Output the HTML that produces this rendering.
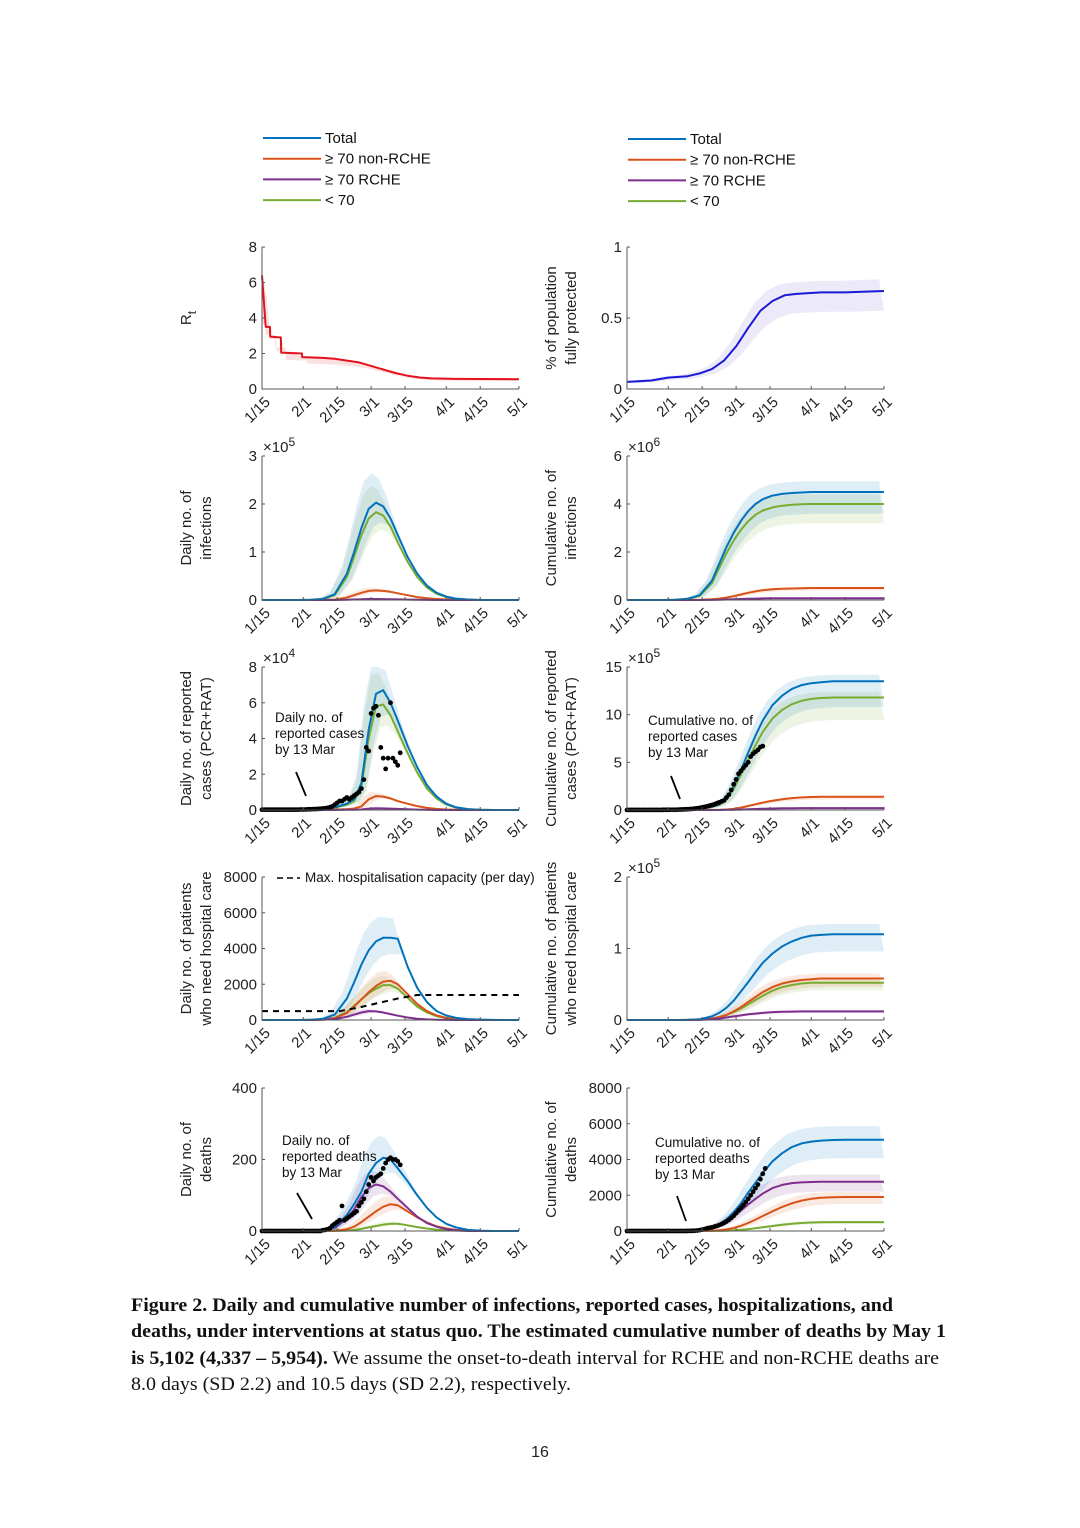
<!DOCTYPE html>
<html><head><meta charset="utf-8">
<style>
body{margin:0;background:#fff;}
svg{display:block;font-family:"Liberation Sans",sans-serif;}
.cap{font-family:"Liberation Serif",serif;font-size:19px;fill:#111;}
</style></head>
<body>
<svg id="fig" width="1080" height="1528" viewBox="0 0 1080 1528" xmlns="http://www.w3.org/2000/svg">
<g id="legend-left"></g>
<g id="legend-right"></g>
<g id="panels"></g>
<g>
<text class="cap" x="131" y="1311" font-weight="bold" textLength="762" lengthAdjust="spacingAndGlyphs">Figure 2. Daily and cumulative number of infections, reported cases, hospitalizations, and</text>
<text class="cap" x="131" y="1337" font-weight="bold" textLength="815" lengthAdjust="spacingAndGlyphs">deaths, under interventions at status quo. The estimated cumulative number of deaths by May 1</text>
<text class="cap" x="131" y="1364" textLength="808" lengthAdjust="spacingAndGlyphs"><tspan font-weight="bold">is 5,102 (4,337 – 5,954).</tspan> We assume the onset-to-death interval for RCHE and non-RCHE deaths are</text>
<text class="cap" x="131" y="1390" textLength="440" lengthAdjust="spacingAndGlyphs">8.0 days (SD 2.2) and 10.5 days (SD 2.2), respectively.</text>
</g>
<text x="540" y="1457" text-anchor="middle" font-size="16" fill="#222">16</text>
</svg>
<script>
// ---- data ----
const xTickLabels = ["1/15","2/1","2/15","3/1","3/15","4/1","4/15","5/1"];
const xTickDays = [0,17,31,45,59,76,90,106];
const gridDays = [0,5,10,15,20,25,30,35,38,41,44,47,50,53,56,60,64,68,72,76,80,85,90,95,100,106];
const seriesNames = ["Total","\u2265 70 non-RCHE","\u2265 70 RCHE","< 70"];

const rtDays = [0,1.5,1.6,3.3,3.4,7.8,7.9,16.5,16.6,25,30,35,40,45,50,55,60,65,70,80,106];
const rtVals = [6.4,3.6,3.5,3.5,2.95,2.9,2.05,2.0,1.8,1.75,1.7,1.6,1.5,1.3,1.1,0.9,0.75,0.65,0.6,0.57,0.55];
const protDays = [0,10,17,25,30,35,40,45,50,55,60,65,70,80,90,106];
const protVals = [0.05,0.06,0.08,0.09,0.11,0.14,0.2,0.3,0.43,0.55,0.62,0.66,0.67,0.68,0.68,0.69];

const infTotal = [0,0,0,0,0.005,0.02,0.12,0.55,1.0,1.5,1.9,2.03,1.95,1.7,1.35,0.9,0.55,0.3,0.15,0.07,0.03,0.01,0,0,0,0];
const infU70 = [0,0,0,0,0.004,0.018,0.1,0.48,0.9,1.35,1.7,1.83,1.76,1.53,1.2,0.8,0.48,0.26,0.13,0.06,0.025,0.008,0,0,0,0];
const infNon = [0,0,0,0,0.001,0.002,0.01,0.05,0.1,0.15,0.19,0.2,0.19,0.17,0.14,0.1,0.06,0.035,0.02,0.01,0.005,0.002,0,0,0,0];
const infRche = [0,0,0,0,0,0,0.001,0.005,0.01,0.015,0.02,0.02,0.018,0.015,0.012,0.008,0.005,0.003,0.001,0,0,0,0,0,0,0];

const cinfTotal = [0,0,0,0,0.01,0.05,0.2,0.8,1.5,2.2,2.8,3.3,3.7,4.0,4.2,4.35,4.42,4.46,4.48,4.5,4.5,4.5,4.5,4.5,4.5,4.5];
const cinfU70 = [0,0,0,0,0.01,0.04,0.17,0.7,1.32,1.95,2.48,2.93,3.28,3.55,3.73,3.86,3.93,3.97,3.99,4.0,4.0,4.0,4.0,4.0,4.0,4.0];
const cinfNon = [0,0,0,0,0,0,0.01,0.03,0.06,0.1,0.16,0.23,0.3,0.36,0.41,0.45,0.47,0.48,0.49,0.5,0.5,0.5,0.5,0.5,0.5,0.5];
const cinfRche = [0,0,0,0,0,0,0,0.005,0.01,0.02,0.03,0.04,0.05,0.06,0.065,0.07,0.07,0.07,0.07,0.07,0.07,0.07,0.07,0.07,0.07,0.07];

const repTotal = [0,0,0,0,0.02,0.05,0.15,0.35,0.6,1.5,4.5,6.5,6.7,6.0,5.0,3.6,2.4,1.4,0.75,0.35,0.15,0.05,0.01,0,0,0];
const repU70 = [0,0,0,0,0.02,0.05,0.13,0.3,0.5,1.3,4.0,5.8,5.9,5.3,4.4,3.2,2.1,1.2,0.65,0.3,0.13,0.04,0.01,0,0,0];
const repNon = [0,0,0,0,0,0,0.02,0.05,0.08,0.2,0.6,0.78,0.75,0.65,0.5,0.35,0.22,0.12,0.06,0.03,0.01,0,0,0,0,0];
const repRche = [0,0,0,0,0,0,0,0.01,0.01,0.03,0.08,0.1,0.09,0.08,0.06,0.04,0.02,0.01,0,0,0,0,0,0,0,0];
const repDotVals = [0.02,0.02,0.02,0.02,0.02,0.02,0.02,0.02,0.02,0.02,0.02,0.02,0.02,0.02,0.02,0.02,0.03,0.03,0.03,0.04,0.04,0.05,0.05,0.06,0.07,0.08,0.1,0.12,0.15,0.2,0.3,0.4,0.5,0.5,0.6,0.7,0.6,0.7,0.8,0.9,1.0,1.2,1.7,3.5,3.3,5.4,5.7,5.8,5.3,3.5,2.9,2.3,2.9,6.0,2.9,2.7,2.5,3.2];

const crepTotal = [0,0,0,0,0.03,0.08,0.15,0.35,0.6,1.2,2.5,4.2,6.0,7.8,9.4,11.0,12.0,12.7,13.1,13.3,13.4,13.5,13.5,13.5,13.5,13.5];
const crepU70 = [0,0,0,0,0.03,0.07,0.13,0.3,0.52,1.05,2.2,3.7,5.25,6.8,8.2,9.6,10.5,11.1,11.45,11.65,11.75,11.8,11.8,11.8,11.8,11.8];
const crepNon = [0,0,0,0,0,0,0,0.01,0.02,0.05,0.12,0.25,0.42,0.6,0.78,0.98,1.13,1.25,1.32,1.36,1.38,1.4,1.4,1.4,1.4,1.4];
const crepRche = [0,0,0,0,0,0,0,0,0,0.01,0.02,0.04,0.07,0.1,0.13,0.16,0.18,0.19,0.2,0.2,0.2,0.2,0.2,0.2,0.2,0.2];
const crepDotVals = [0.01,0.01,0.01,0.01,0.01,0.01,0.01,0.01,0.01,0.01,0.01,0.01,0.01,0.01,0.01,0.02,0.02,0.02,0.03,0.03,0.03,0.04,0.05,0.06,0.07,0.08,0.1,0.12,0.15,0.18,0.22,0.27,0.33,0.38,0.45,0.52,0.6,0.7,0.8,0.9,1.0,1.3,1.6,2.1,2.7,3.2,3.8,4.1,4.4,4.7,5.0,5.6,5.9,6.1,6.3,6.6,6.7];

const hosTotal = [0,0,0,0,10,60,300,1200,2100,3100,3900,4400,4600,4600,4550,3000,1800,1000,500,250,120,50,20,5,0,0];
const hosNon = [0,0,0,0,5,20,100,400,750,1150,1550,1900,2150,2200,2000,1450,900,500,260,120,55,20,8,2,0,0];
const hosU70 = [0,0,0,0,5,25,120,450,800,1150,1500,1750,1950,1950,1750,1250,750,420,210,100,45,15,5,1,0,0];
const hosRche = [0,0,0,0,2,10,50,180,300,420,500,480,420,330,240,140,75,35,15,6,2,0,0,0,0,0];
const capDays = [0,32,40,48,56,64,106];
const capVals = [500,500,700,950,1200,1400,1400];

const chosTotal = [0,0,0,0,0,0.002,0.01,0.05,0.1,0.17,0.27,0.4,0.53,0.67,0.8,0.93,1.03,1.1,1.15,1.18,1.19,1.2,1.2,1.2,1.2,1.2];
const chosNon = [0,0,0,0,0,0.001,0.005,0.02,0.04,0.07,0.12,0.18,0.25,0.32,0.39,0.46,0.51,0.54,0.56,0.57,0.58,0.58,0.58,0.58,0.58,0.58];
const chosU70 = [0,0,0,0,0,0.001,0.005,0.02,0.04,0.07,0.11,0.16,0.22,0.28,0.34,0.41,0.46,0.49,0.51,0.52,0.52,0.52,0.52,0.52,0.52,0.52];
const chosRche = [0,0,0,0,0,0,0.002,0.01,0.02,0.035,0.05,0.065,0.08,0.09,0.1,0.11,0.115,0.118,0.12,0.12,0.12,0.12,0.12,0.12,0.12,0.12];

const dthTotal = [0,0,0,0,0,1,10,45,75,110,160,190,205,200,175,140,100,65,38,20,10,3,1,0,0,0];
const dthRche = [0,0,0,0,0,1,8,35,60,95,120,130,125,110,90,65,40,22,12,5,2,0,0,0,0,0];
const dthNon = [0,0,0,0,0,0,1,5,12,25,40,55,68,75,72,55,38,24,13,7,3,1,0,0,0,0];
const dthU70 = [0,0,0,0,0,0,0,1,3,6,10,14,18,20,20,16,11,7,4,2,1,0,0,0,0,0];
const dthDotVals = [0,0,0,0,0,0,0,0,0,0,0,0,0,0,0,0,0,0,0,0,0,0,0,0,0,2,3,5,8,15,20,25,30,70,30,35,40,45,50,55,70,80,90,110,130,150,140,150,155,160,175,190,200,205,200,200,195,185];

const cdthTotal = [0,0,0,0,0,5,40,200,380,650,1050,1550,2150,2700,3250,3900,4350,4700,4900,5000,5060,5090,5100,5100,5100,5100];
const cdthRche = [0,0,0,0,0,4,35,170,320,530,820,1150,1480,1800,2100,2400,2580,2680,2720,2740,2750,2750,2750,2750,2750,2750];
const cdthNon = [0,0,0,0,0,0,3,15,40,90,170,290,450,640,840,1100,1350,1550,1700,1800,1860,1890,1900,1900,1900,1900];
const cdthU70 = [0,0,0,0,0,0,0,3,8,18,35,65,105,155,210,280,350,410,450,475,490,497,500,500,500,500];
const cdthDotVals = [0,0,0,0,0,0,0,0,0,0,0,0,0,0,0,0,0,0,0,0,0,0,0,0,0,3,6,10,15,30,50,75,105,150,180,200,240,280,330,385,450,530,620,730,850,1000,1150,1300,1450,1620,1800,2000,2200,2400,2600,2900,3200,3500];

// ---- drawing ----
const NS="http://www.w3.org/2000/svg";
const C={blue:"#0072BD",orange:"#D95319",purple:"#7E2F8E",green:"#77AC30"};
function el(tag,attrs,parent){const e=document.createElementNS(NS,tag);for(const k in attrs)e.setAttribute(k,attrs[k]);if(parent)parent.appendChild(e);return e;}
const panelsG=document.getElementById('panels');

function legend(gid,x0,y0){
  const g=document.getElementById(gid);
  const cols=[C.blue,C.orange,C.purple,C.green];
  seriesNames.forEach((n,i)=>{
    const y=y0+i*20.7;
    const ln=el('line',{x1:x0,x2:x0+58,y1:y,y2:y,stroke:cols[i],'stroke-width':2},g);
    
    
    const t=el('text',{x:x0+62,y:y+5,'font-size':15,fill:'#111'},g);
    t.textContent=n;
    
    
  });
}
legend('legend-left',263,138);
legend('legend-right',628,139);

function makePanel(p){
  const g=el('g',{},panelsG);
  
  
  const x0=p.x, x1=p.x+257, yT=p.top, yB=p.bot;
  const sx=d=>x0+(d/106)*(x1-x0);
  const sy=v=>yB-(v/p.ymax)*(yB-yT);
  (p.series||[]).forEach(s=>{
    if(s.dash) return;
    const days=s.days||gridDays;
    let up=days.map((d,i)=>sx(Math.max(0,d-2))+','+sy(Math.min(p.ymax,s.vals[i]*(p.band||1.25))));
    let lo=days.map((d,i)=>sx(Math.min(106,d+2))+','+sy(s.vals[i]*0.8)).reverse();
    const b=el('polygon',{points:up.concat(lo).join(' '),fill:s.bandColor||s.color,opacity:0.13},g);
    
    
  });
  (p.series||[]).forEach(s=>{
    const days=s.days||gridDays;
    const pts=days.map((d,i)=>sx(d).toFixed(1)+','+sy(s.vals[i]).toFixed(1)).join(' ');
    const l=el('polyline',{points:pts,fill:'none',stroke:s.color,'stroke-width':2,'stroke-linejoin':'round','stroke-dasharray':s.dash||'none'},g);
    
    
  });
  if(p.dots){
    const dd=p.dots.days||p.dots.vals.map((v,i)=>i);
    p.dots.vals.forEach((v,i)=>{
      const c=el('circle',{cx:sx(dd[i]),cy:sy(v),r:2.4,fill:'#000'},g);
      
      
    });
  }
  const ax=el('path',{d:`M${x0},${yT} L${x0},${yB} L${x1},${yB}`,fill:'none',stroke:'#555','stroke-width':1},g);
  
  
  p.yticks.forEach((v,i)=>{
    const y=sy(v);
    el('line',{x1:x0,x2:x0+3,y1:y,y2:y,stroke:'#555'},g);
    const t=el('text',{x:x0-5,y:y+5,'text-anchor':'end','font-size':15,fill:'#222'},g);
    t.textContent=String(v);
    
    
  });
  xTickDays.forEach((d,i)=>{
    const x=sx(d);
    el('line',{x1:x,x2:x,y1:yB,y2:yB-3,stroke:'#555'},g);
    const t=el('text',{x:x+9,y:yB+14,'text-anchor':'end','font-size':15,fill:'#222',transform:`rotate(-45 ${x+9} ${yB+14})`},g);
    t.textContent=xTickLabels[i];
    
    
  });
  if(p.exp){
    const t=el('text',{x:x0+1,y:yT-4,'font-size':15,fill:'#222'},g);
    t.innerHTML='\u00d710<tspan dy="-6" font-size="12">'+p.exp+'</tspan>';
    
    
  }
  const cy=(yT+yB)/2;
  const lx=p.x-71;
  p.ylab.forEach((line,i)=>{
    const x=lx+i*20;
    const t=el('text',{x:x,y:cy,'text-anchor':'middle','font-size':15,fill:'#222',transform:`rotate(-90 ${x} ${cy})`},g);
    if(line==='Rt'){t.innerHTML='R<tspan dy="5" font-size="12">t</tspan>';}
    else t.textContent=line;
    
    
  });
  if(p.note){
    p.note.lines.forEach((s,i)=>{
      const t=el('text',{x:p.note.x,y:p.note.y+i*16,'font-size':13.5,fill:'#111'},g);
      t.textContent=s;
      
      
    });
    const a=p.note.arrow;
    const l=el('line',{x1:a[0],y1:a[1],x2:a[2],y2:a[3],stroke:'#000','stroke-width':1.8},g);
    
    
  }
  return {g,sx,sy};
}
function four(t,n,r,u){return [
  {id:'under70',vals:u,color:C.green},
  {id:'non-rche',vals:n,color:C.orange},
  {id:'rche',vals:r,color:C.purple},
  {id:'total',vals:t,color:C.blue}];}

const L=262,R=627;
makePanel({name:'rt-panel',x:L,top:247,bot:389,ymax:8,yticks:[0,2,4,6,8],ylab:['Rt'],band:1.04,
  series:[{id:'rt',days:rtDays,vals:rtVals,color:'#e3121b'}]});
makePanel({name:'protected-panel',x:R,top:247,bot:389,ymax:1,yticks:[0,0.5,1],ylab:['% of population','fully protected'],band:1.12,
  series:[{id:'protected',days:protDays,vals:protVals,color:'#1a1ad6',bandColor:'#6a5acd'}]});
makePanel({name:'daily-infections-panel',x:L,top:456,bot:600,ymax:3,yticks:[0,1,2,3],exp:5,ylab:['Daily no. of','infections'],band:1.3,
  series:four(infTotal,infNon,infRche,infU70)});
makePanel({name:'cumulative-infections-panel',x:R,top:456,bot:600,ymax:6,yticks:[0,2,4,6],exp:6,ylab:['Cumulative no. of','infections'],band:1.1,
  series:four(cinfTotal,cinfNon,cinfRche,cinfU70)});
makePanel({name:'daily-reported-panel',x:L,top:667,bot:810,ymax:8,yticks:[0,2,4,6,8],exp:4,ylab:['Daily no. of reported','cases (PCR+RAT)'],band:1.3,
  series:four(repTotal,repNon,repRche,repU70),dots:{vals:repDotVals},
  note:{x:275,y:722,lines:['Daily no. of','reported cases','by 13 Mar'],arrow:[296,772,306,796]}});
makePanel({name:'cumulative-reported-panel',x:R,top:667,bot:810,ymax:15,yticks:[0,5,10,15],exp:5,ylab:['Cumulative no. of reported','cases (PCR+RAT)'],band:1.05,
  series:four(crepTotal,crepNon,crepRche,crepU70),dots:{vals:crepDotVals},
  note:{x:648,y:725,lines:['Cumulative no. of','reported cases','by 13 Mar'],arrow:[671,776,680,799]}});
const hp=makePanel({name:'daily-hospital-panel',x:L,top:877,bot:1020,ymax:8000,yticks:[0,2000,4000,6000,8000],ylab:['Daily no. of patients','who need hospital care'],band:1.25,
  series:four(hosTotal,hosNon,hosRche,hosU70).concat([{id:'capacity',days:capDays,vals:capVals,color:'#000',dash:'6,5'}])});
{
  const g=hp.g;
  const l=el('line',{x1:277,x2:300,y1:878,y2:878,stroke:'#000','stroke-width':1.6,'stroke-dasharray':'6,4'},g);
  
  
  const t=el('text',{x:305,y:882,'font-size':13.5,fill:'#111'},g);
  t.textContent='Max. hospitalisation capacity (per day)';
  
  
}
makePanel({name:'cumulative-hospital-panel',x:R,top:877,bot:1020,ymax:2,yticks:[0,1,2],exp:5,ylab:['Cumulative no. of patients','who need hospital care'],band:1.12,
  series:four(chosTotal,chosNon,chosRche,chosU70)});
makePanel({name:'daily-deaths-panel',x:L,top:1088,bot:1231,ymax:400,yticks:[0,200,400],ylab:['Daily no. of','deaths'],band:1.3,
  series:four(dthTotal,dthNon,dthRche,dthU70),dots:{vals:dthDotVals},
  note:{x:282,y:1145,lines:['Daily no. of','reported deaths','by 13 Mar'],arrow:[297,1193,312,1219]}});
makePanel({name:'cumulative-deaths-panel',x:R,top:1088,bot:1231,ymax:8000,yticks:[0,2000,4000,6000,8000],ylab:['Cumulative no. of','deaths'],band:1.15,
  series:four(cdthTotal,cdthNon,cdthRche,cdthU70),dots:{vals:cdthDotVals},
  note:{x:655,y:1147,lines:['Cumulative no. of','reported deaths','by 13 Mar'],arrow:[677,1196,686,1221]}});
</script>
</body></html>
